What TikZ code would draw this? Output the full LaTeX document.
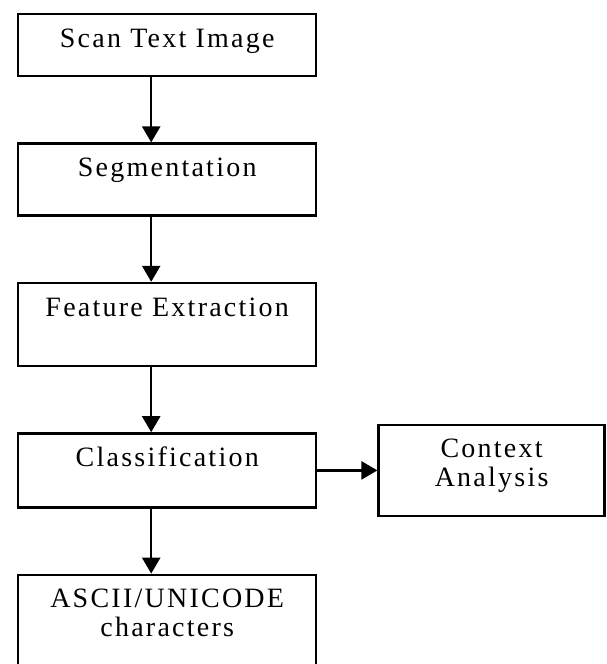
\documentclass[tikz,border=0pt]{standalone}
\usepackage{fontspec}
\setmainfont[LetterSpace=8]{Liberation Serif}
\usetikzlibrary{positioning,arrows.meta}
\begin{document}
\begin{tikzpicture}[
        node distance=32.5pt,
        box/.style={draw, line width=1.2pt, rectangle, align=center, minimum width=149pt, inner sep=0pt, text height=16.5pt, font=\fontsize{14}{14.5}\selectfont},
        flow/.style={-{Triangle[width=9pt,length=8pt]}, line width=1.2pt}
    ]
        \useasboundingbox (0,0) rectangle (303pt,-332pt);
        \node (scan) [box, text depth=14.5pt, anchor=north west] at (8.5pt,-6.5pt) {Scan Text Image};
        \node (segment) [box, text depth=19.5pt, below=of scan] {Segmentation};
        \node (feature) [box, text depth=25pt, below=of segment] {Feature Extraction};
        \node (classify) [box, text depth=20.5pt, below=of feature] {Classification};
        % two lines: the baseline is the last one
        \node (unicode) [box, text height=31pt, text depth=24pt, below=of classify] {ASCII/UNICODE\\characters};
        \node (context) [box, minimum width=113pt, text height=31pt, text depth=14.5pt, right=30pt of classify] {Context\\Analysis};

        \draw[flow] ([xshift=-8pt]scan.south) -- ([xshift=-8pt]segment.north);
        \draw[flow] ([xshift=-8pt]segment.south) -- ([xshift=-8pt]feature.north);
        \draw[flow] ([xshift=-8pt]feature.south) -- ([xshift=-8pt]classify.north);
        \draw[flow] ([xshift=-8pt]classify.south) -- ([xshift=-8pt]unicode.north);
        \draw[flow] (classify) -- (context);
    \end{tikzpicture}
\end{document}
